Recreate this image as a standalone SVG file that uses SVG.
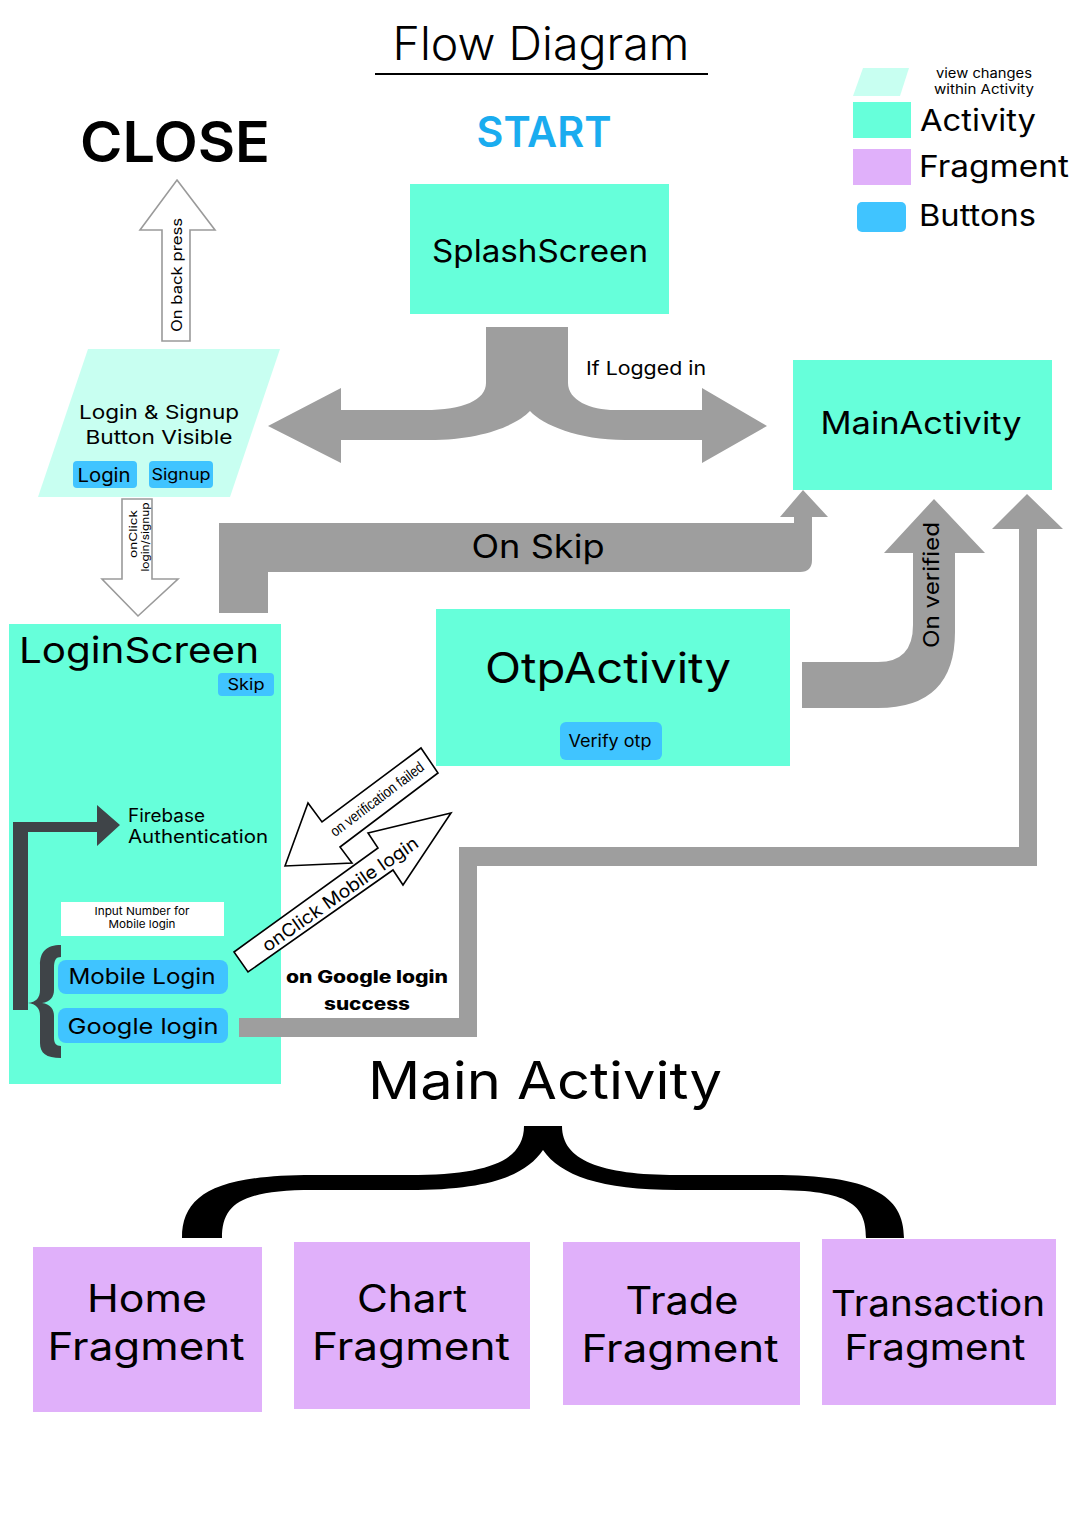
<svg xmlns="http://www.w3.org/2000/svg" width="1080" height="1516" viewBox="0 0 1080 1516">
<style>
text{font-family:"Inter","DejaVu Sans",sans-serif;fill:#000}
.act{fill:#66FFDA}
.frag{fill:#E0B0FA}
.btn{fill:#40C4FF}
.view{fill:#C8FFF1}
.gray{fill:#9E9E9E}
.outline{fill:#fff;stroke:#9a9a9a;stroke-width:1.6}
.blk{fill:#fff;stroke:#000;stroke-width:1.6}
.mid{text-anchor:middle}
</style>
<rect width="1080" height="1516" fill="#fff"/>

<g id="title">
<text x="541" y="60" font-size="46" font-weight="300" class="mid" textLength="297" lengthAdjust="spacingAndGlyphs">Flow Diagram</text>
<line x1="375" y1="74" x2="708" y2="74" stroke="#000" stroke-width="2"/>
</g>

<g id="legend">
<polygon class="view" points="863,68 909,68 900,96 853,96"/>
<text x="984" y="78" font-size="13" class="mid" textLength="96" lengthAdjust="spacingAndGlyphs">view changes</text>
<text x="984" y="94" font-size="13" class="mid" textLength="100" lengthAdjust="spacingAndGlyphs">within Activity</text>
<rect class="act" x="853" y="102" width="58" height="36"/>
<text x="920" y="131" font-size="30" textLength="116" lengthAdjust="spacingAndGlyphs">Activity</text>
<rect class="frag" x="853" y="149" width="58" height="36"/>
<text x="919" y="177" font-size="30" textLength="150" lengthAdjust="spacingAndGlyphs">Fragment</text>
<rect class="btn" x="857" y="202" width="49" height="30" rx="5"/>
<text x="919" y="226" font-size="30" textLength="117" lengthAdjust="spacingAndGlyphs">Buttons</text>
</g>

<g id="close">
<text x="175" y="162" font-size="56" font-weight="600" class="mid" textLength="190" lengthAdjust="spacingAndGlyphs">CLOSE</text>
</g>

<g id="start">
<text x="544" y="147" font-size="42" font-weight="600" class="mid" style="fill:#1AACEF" textLength="135" lengthAdjust="spacingAndGlyphs">START</text>
</g>

<g id="splashscreen">
<rect class="act" x="410" y="184" width="259" height="130"/>
<text x="540" y="262" font-size="31" class="mid" textLength="216" lengthAdjust="spacingAndGlyphs">SplashScreen</text>
</g>

<g id="mainactivity">
<rect class="act" x="793" y="360" width="259" height="130"/>
<text x="921" y="434" font-size="31" class="mid" textLength="201" lengthAdjust="spacingAndGlyphs">MainActivity</text>
</g>

<g id="login-signup-view">
<polygon class="view" points="88,349 280,349 230,497 38,497"/>
<text x="159" y="419" font-size="19" class="mid" textLength="160" lengthAdjust="spacingAndGlyphs">Login &amp; Signup</text>
<text x="159" y="444" font-size="19" class="mid" textLength="147" lengthAdjust="spacingAndGlyphs">Button Visible</text>
<rect class="btn" x="73" y="461" width="64" height="27" rx="4"/>
<text x="104" y="482" font-size="19" class="mid" textLength="53" lengthAdjust="spacingAndGlyphs">Login</text>
<rect class="btn" x="149" y="461" width="64" height="27" rx="4"/>
<text x="181" y="480" font-size="16" class="mid" textLength="59" lengthAdjust="spacingAndGlyphs">Signup</text>
</g>

<g id="loginscreen">
<rect class="act" x="9" y="624" width="272" height="460"/>
<text x="19" y="663" font-size="36" textLength="240" lengthAdjust="spacingAndGlyphs">LoginScreen</text>
<rect class="btn" x="218" y="673" width="56" height="23" rx="4"/>
<text x="246" y="690" font-size="16" class="mid" textLength="37" lengthAdjust="spacingAndGlyphs">Skip</text>
<path fill="#3F4448" d="M13,822 L97,822 L97,805 L120,825 L97,846 L97,832 L28,832 L28,1010 L13,1010 Z"/>
<text x="128" y="822" font-size="18" textLength="77" lengthAdjust="spacingAndGlyphs">Firebase</text>
<text x="128" y="843" font-size="18" textLength="140" lengthAdjust="spacingAndGlyphs">Authentication</text>
<rect x="61" y="902" width="163" height="34" fill="#fff"/>
<text x="142" y="915" font-size="11" class="mid" textLength="95" lengthAdjust="spacingAndGlyphs">Input Number for</text>
<text x="142" y="928" font-size="11" class="mid" textLength="67" lengthAdjust="spacingAndGlyphs">Mobile login</text>
<path fill="#3F4448" d="M61,945 C46,945 40,952 40,965 L40,990 C40,998 36,1002 28,1003 C36,1004 40,1008 40,1016 L40,1043 C40,1053 46,1058 61,1058 L61,1046 C56,1046 54,1043 54,1038 L54,1016 C54,1009 50,1004 42,1003 C50,1002 54,997 54,990 L54,968 C54,960 56,957 61,957 Z"/>
<rect class="btn" x="58" y="960" width="170" height="34" rx="8"/>
<text x="142" y="984" font-size="22" class="mid" textLength="147" lengthAdjust="spacingAndGlyphs">Mobile Login</text>
<rect class="btn" x="58" y="1008" width="170" height="35" rx="8"/>
<text x="143" y="1034" font-size="22" class="mid" textLength="151" lengthAdjust="spacingAndGlyphs">Google login</text>
</g>

<g id="otpactivity">
<rect class="act" x="436" y="609" width="354" height="157"/>
<text x="608" y="683" font-size="42" class="mid" textLength="246" lengthAdjust="spacingAndGlyphs">OtpActivity</text>
<rect class="btn" x="560" y="722" width="102" height="38" rx="6"/>
<text x="610" y="747" font-size="17" class="mid" textLength="83" lengthAdjust="spacingAndGlyphs">Verify otp</text>
</g>

<g id="main-activity-label">
<text x="545" y="1099" font-size="52" class="mid" textLength="354" lengthAdjust="spacingAndGlyphs">Main Activity</text>
</g>

<g id="home-fragment">
<rect class="frag" x="33" y="1247" width="229" height="165"/>
<text x="147" y="1312" font-size="38" class="mid" textLength="120" lengthAdjust="spacingAndGlyphs">Home</text>
<text x="146" y="1360" font-size="38" class="mid" textLength="197" lengthAdjust="spacingAndGlyphs">Fragment</text>
</g>

<g id="chart-fragment">
<rect class="frag" x="294" y="1242" width="236" height="167"/>
<text x="412" y="1312" font-size="38" class="mid" textLength="110" lengthAdjust="spacingAndGlyphs">Chart</text>
<text x="411" y="1360" font-size="38" class="mid" textLength="198" lengthAdjust="spacingAndGlyphs">Fragment</text>
</g>

<g id="trade-fragment">
<rect class="frag" x="563" y="1242" width="237" height="163"/>
<text x="682" y="1314" font-size="38" class="mid" textLength="113" lengthAdjust="spacingAndGlyphs">Trade</text>
<text x="680" y="1362" font-size="38" class="mid" textLength="197" lengthAdjust="spacingAndGlyphs">Fragment</text>
</g>

<g id="transaction-fragment">
<rect class="frag" x="822" y="1239" width="234" height="166"/>
<text x="938" y="1316" font-size="36" class="mid" textLength="214" lengthAdjust="spacingAndGlyphs">Transaction</text>
<text x="935" y="1360" font-size="36" class="mid" textLength="181" lengthAdjust="spacingAndGlyphs">Fragment</text>
</g>

<g id="connectors">
<!-- splash split arrow -->
<path class="gray" d="M486,327 L486,383 C486,400 463,410 425,410 L341,410 L341,388 L268,426 L341,463 L341,440 L429,440 C482,440 517,425 530,411 C543,425 578,440 625,440 L702,440 L702,463 L767,426 L702,388 L702,410 L615,410 C590,410 568,400 568,383 L568,327 Z"/>
<text x="586" y="375" font-size="19" textLength="120" lengthAdjust="spacingAndGlyphs">If Logged in</text>

<!-- on back press -->
<polygon class="outline" points="177,180 215,230 190,230 190,341 162,341 162,230 140,230"/>
<text transform="translate(182,275) rotate(-90)" font-size="14" class="mid" textLength="114" lengthAdjust="spacingAndGlyphs">On back press</text>

<!-- onClick login/signup -->
<polygon class="outline" points="122,499 152,499 152,579 178,579 138,616 102,579 122,579"/>
<text transform="translate(137,534) rotate(-90)" font-size="10.5" class="mid" textLength="48" lengthAdjust="spacingAndGlyphs">onClick</text>
<text transform="translate(149,537) rotate(-90)" font-size="10.5" class="mid" textLength="69" lengthAdjust="spacingAndGlyphs">login/signup</text>

<!-- on skip -->
<path class="gray" d="M219,613 L219,523 L794,523 L794,517 L780,517 L803,490 L828,517 L812,517 L812,560 Q812,572 800,572 L268,572 L268,613 Z"/>
<text x="538" y="558" font-size="32" class="mid" textLength="133" lengthAdjust="spacingAndGlyphs">On Skip</text>

<!-- on verified -->
<path class="gray" d="M802,662 L878,662 Q913,662 913,625 L913,553 L884,553 L934,499 L985,553 L955,553 L955,632 Q955,708 878,708 L802,708 Z"/>
<text transform="translate(939,585) rotate(-90)" font-size="22" class="mid" textLength="126" lengthAdjust="spacingAndGlyphs">On verified</text>

<!-- google login success -->
<polygon class="gray" points="239,1018 459,1018 459,847 1019,847 1019,529 992,529 1027,494 1063,529 1037,529 1037,866 477,866 477,1037 239,1037"/>
<text x="367" y="983" font-size="17" font-weight="800" class="mid" textLength="162" lengthAdjust="spacingAndGlyphs">on Google login</text>
<text x="367" y="1010" font-size="17" font-weight="800" class="mid" textLength="86" lengthAdjust="spacingAndGlyphs">success</text>

<!-- verification failed -->
<polygon class="blk" points="285,866 308,803 322,822 421,748 438,773 340,847 352,863"/>
<text transform="translate(377,799) rotate(-37)" dy="0.35em" font-size="15" class="mid" style="font-family:'Liberation Sans',sans-serif" textLength="113" lengthAdjust="spacingAndGlyphs">on verification failed</text>

<!-- onClick Mobile login -->
<polygon class="blk" points="234,952 378,848 368,833 451,813 403,885 393,870 248,972"/>
<text transform="translate(340,894) rotate(-35)" dy="0.35em" font-size="18" class="mid" textLength="186" lengthAdjust="spacingAndGlyphs">onClick Mobile login</text>

<!-- main activity brace -->
<path fill="#000" d="M182,1238 C182,1195 215,1175 313,1175 L409,1175 C490,1175 524,1160 524,1126 L562,1126 C562,1160 600,1175 677,1175 L773,1175 C870,1175 904,1195 904,1238 L866,1238 C866,1205 850,1190 773,1190 L677,1190 C600,1190 560,1175 543,1150 C526,1175 490,1190 409,1190 L313,1190 C240,1190 222,1205 222,1238 Z"/>
</g>
</svg>
